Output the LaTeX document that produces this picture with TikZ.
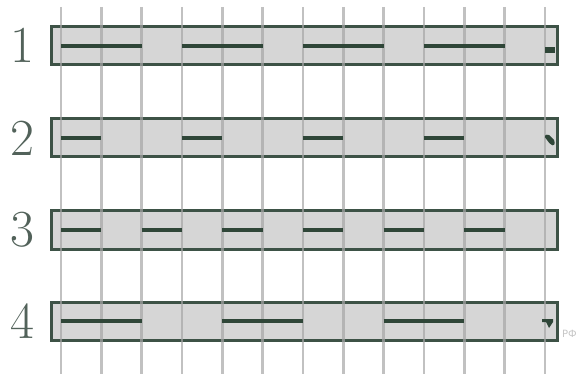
\documentclass[tikz,border=0pt]{standalone}
\usepackage{fontspec}
\newfontfamily\djv{DejaVu Sans}
\definecolor{barfill}{HTML}{D6D6D6}
\definecolor{barline}{HTML}{3D5246}
\definecolor{segcol}{HTML}{2F4638}
\definecolor{gridcol}{HTML}{A6A6A6}
\definecolor{labcol}{HTML}{52625A}
\tikzset{
  barbox/.style={draw=barline, line width=3pt, fill=barfill, rectangle,
    minimum width=506pt, minimum height=38pt, inner sep=0pt},
  gridline/.style={draw=gridcol, line width=2.5pt, opacity=0.7},
  seg/.style={draw=segcol, line width=3.6pt},
  endmark/.style={fill=segcol, draw=none},
  numlab/.style={text=labcol, anchor=east, inner sep=0pt,
    font=\fontsize{52}{52}\selectfont}
}
\begin{document}
\begin{tikzpicture}[x=1pt,y=-1pt]
\useasboundingbox (0,0) rectangle (578,374);
% bars
\node[barbox] (b1) at (304,46) {};
\node[barbox] (b2) at (304,138) {};
\node[barbox] (b3) at (304,230) {};
\node[barbox] (b4) at (304,321) {};
% labels
\node[numlab] (l1) at (35,45) {1};
\node[numlab] (l2) at (35,138) {2};
\node[numlab] (l3) at (35,230) {3};
\node[numlab] (l4) at (35,321) {4};
% grid lines
\foreach \i in {0,...,12}{
  \draw[gridline] ({61+40.33*\i},7) -- ({61+40.33*\i},374);
}
% segments
\def\L#1{61+40.33*#1}
% bar 1
\foreach \a/\b in {0/2,3/5,6/8,9/11}{
  \draw[seg] ({\L{\a}},46) -- ({\L{\b}},46);
}
% bar 2
\foreach \a/\b in {0/1,3/4,6/7,9/10}{
  \draw[seg] ({\L{\a}},138) -- ({\L{\b}},138);
}
% bar 3
\foreach \a/\b in {0/1,2/3,4/5,6/7,8/9,10/11}{
  \draw[seg] ({\L{\a}},230) -- ({\L{\b}},230);
}
% bar 4
\foreach \a/\b in {0/2,4/6,8/10}{
  \draw[seg] ({\L{\a}},321) -- ({\L{\b}},321);
}
% end marks
\fill[endmark] (545,47) rectangle (555,53);
\fill[endmark, rounded corners=1.5pt] (544,136) -- (548,134) -- (555,141) -- (554,146) -- (550,144) -- cycle;
\fill[endmark] (542,319) -- (553,319) -- (553,322) -- (549,328) -- (546,322) -- (542,322) -- cycle;
% watermark
\node[text=gray!45, anchor=west, inner sep=0pt, font=\djv\fontsize{10}{10}\selectfont] (wm) at (562,334) {РФ};
\end{tikzpicture}
\end{document}
